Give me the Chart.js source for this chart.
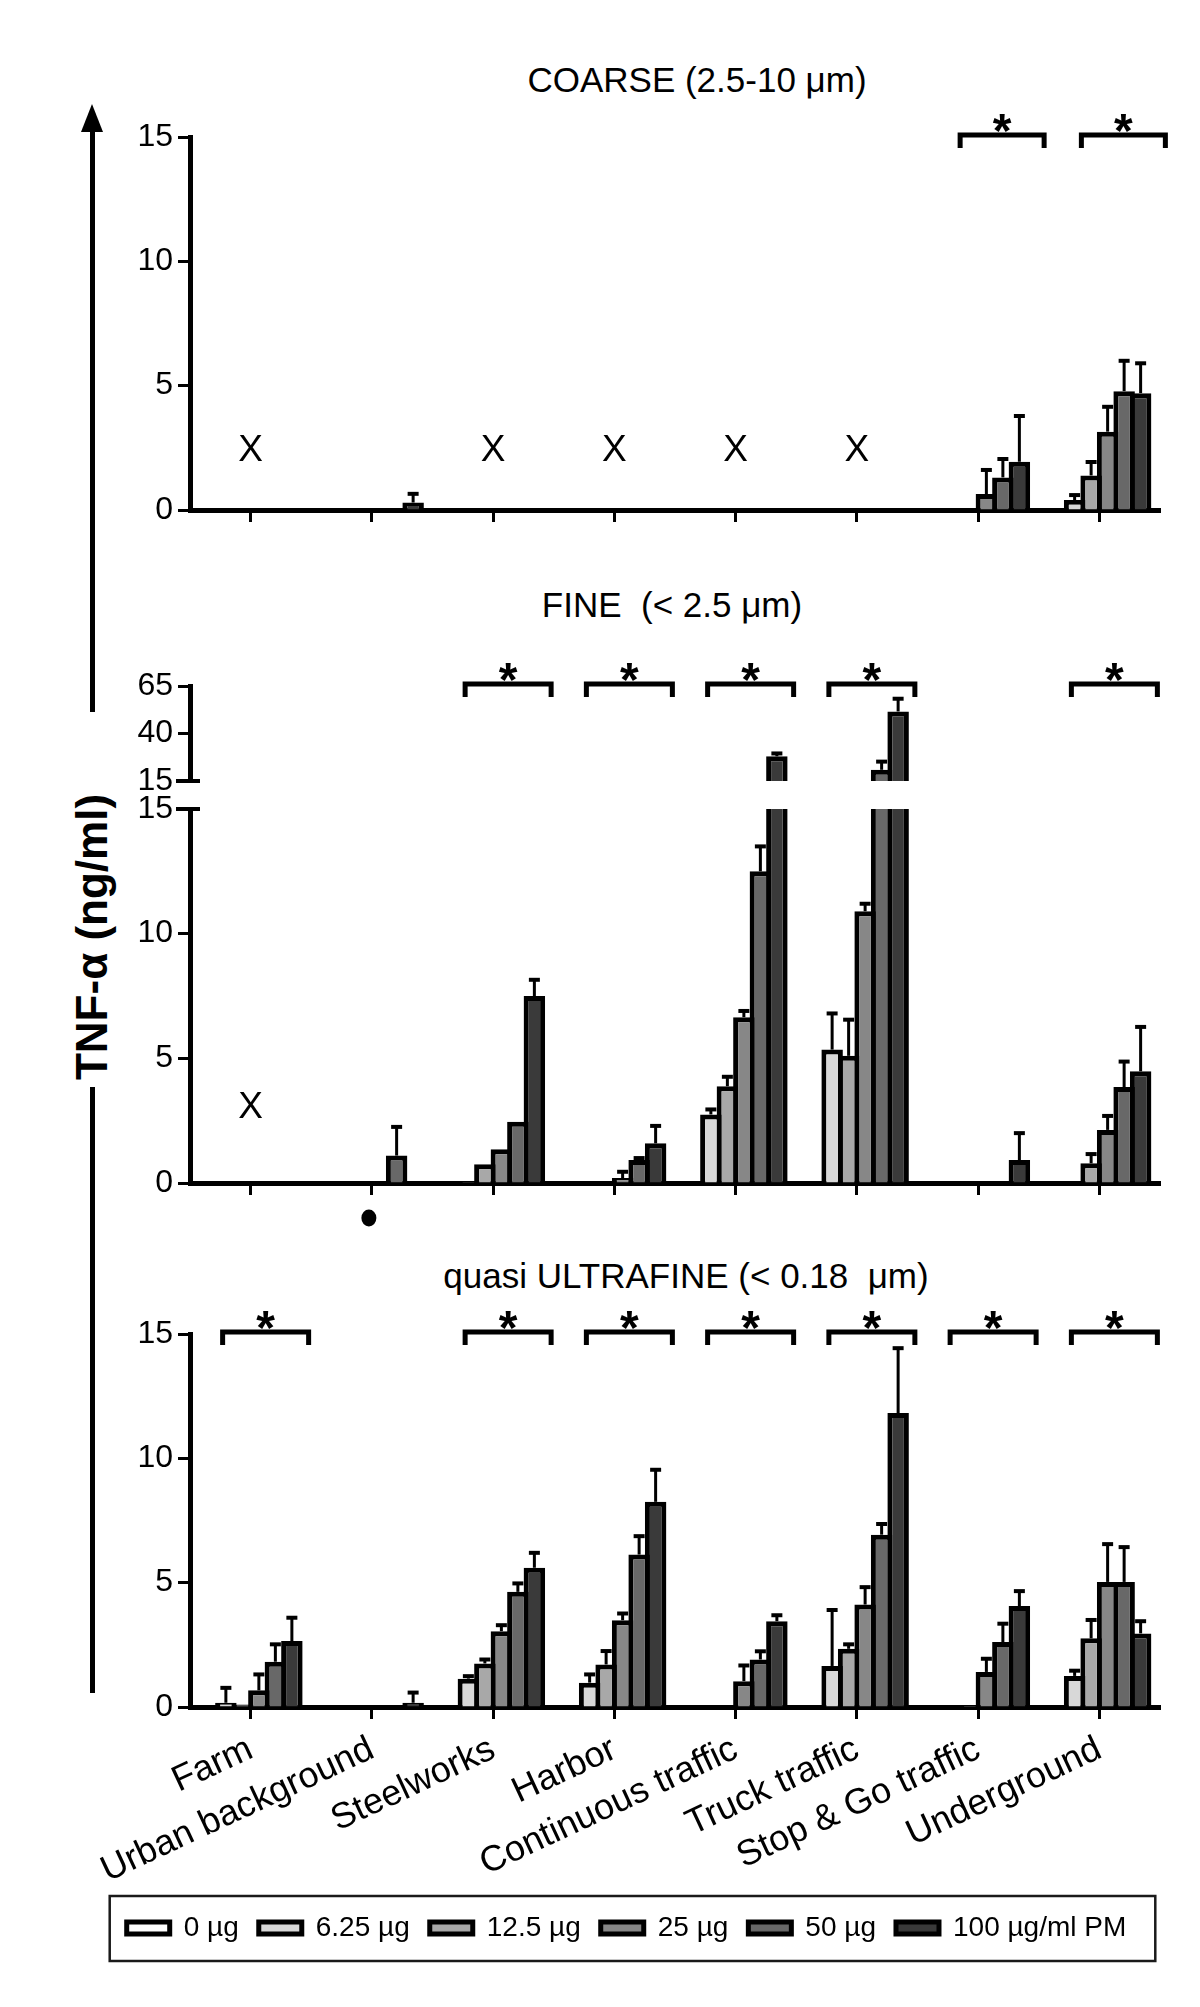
<!DOCTYPE html>
<html>
<head>
<meta charset="utf-8">
<script src="https://cdn.jsdelivr.net/npm/chart.js@4.4.1/dist/chart.umd.min.js"></script>
<style>
  html, body { margin: 0; padding: 0; background: #ffffff; }
  body { width: 1200px; height: 2007px; position: relative; overflow: hidden; font-family: 'Liberation Sans', Arial, sans-serif; color: #000; }
  .wrap { position: absolute; left: 0; width: 1200px; }
  .wrap canvas { display: block; }
  .ptitle { position: absolute; font-size: 35px; white-space: pre; transform: translate(-50%, -50%); line-height: 1; }
  #ytitle { position: absolute; left: 92px; top: 937px; transform: translate(-50%, -50%) rotate(-90deg); font-size: 44px; font-weight: bold; white-space: nowrap; line-height: 1; }
  .vline { position: absolute; left: 90px; width: 5px; background: #000; }
  #arrowhead { position: absolute; left: 81px; top: 104px; width: 0; height: 0; border-left: 11px solid transparent; border-right: 11px solid transparent; border-bottom: 28px solid #000; }
</style>
</head>
<body>
<div class="ptitle" style="left:697px; top:79px;">COARSE (2.5-10 μm)</div>
<div class="ptitle" style="left:672px; top:604px;">FINE  (&lt; 2.5 μm)</div>
<div class="ptitle" style="left:686px; top:1275px;">quasi ULTRAFINE (&lt; 0.18  μm)</div>

<div id="arrowhead"></div>
<div class="vline" style="top:126px; height:586px;"></div>
<div class="vline" style="top:1087px; height:606px;"></div>
<div id="ytitle">TNF-α (ng/ml)</div>

<div class="wrap" style="top:95px; height:445px;"><canvas id="cCoarse" width="1200" height="445"></canvas></div>
<div class="wrap" style="top:640px; height:170px;"><canvas id="cFineTop" width="1200" height="170"></canvas></div>
<div class="wrap" style="top:780px; height:460px;"><canvas id="cFineBottom" width="1200" height="460"></canvas></div>
<div class="wrap" style="top:1290px; height:717px;"><canvas id="cUltra" width="1200" height="717"></canvas></div>

<script>
// ---------------- DATA ----------------
const categories = ['Farm', 'Urban background', 'Steelworks', 'Harbor', 'Continuous traffic', 'Truck traffic', 'Stop & Go traffic', 'Underground'];
const doseLabels = ['0 µg', '6.25 µg', '12.5 µg', '25 µg', '50 µg', '100 µg/ml PM'];

// COARSE (2.5-10 µm) – mean TNF-α (ng/ml); null = not tested (X)
const coarse0   = [null, 0,    null, null, null, null, 0,    0];
const coarse6   = [null, 0,    null, null, null, null, 0,    0.40];
const coarse12  = [null, 0,    null, null, null, null, 0,    1.39];
const coarse25  = [null, 0,    null, null, null, null, 0.64, 3.15];
const coarse50  = [null, 0,    null, null, null, null, 1.31, 4.78];
const coarse100 = [null, 0.30, null, null, null, null, 1.94, 4.70];
const coarseErr6   = [0, 0,    0, 0, 0, 0, 0,    0.20];
const coarseErr12  = [0, 0,    0, 0, 0, 0, 0,    0.54];
const coarseErr25  = [0, 0,    0, 0, 0, 0, 0.97, 1.00];
const coarseErr50  = [0, 0,    0, 0, 0, 0, 0.74, 1.22];
const coarseErr100 = [0, 0.35, 0, 0, 0, 0, 1.84, 1.20];
const coarseSignificant = ['Stop & Go traffic', 'Underground'];
const coarseNotTested = ['Farm', 'Steelworks', 'Harbor', 'Continuous traffic', 'Truck traffic'];

// FINE (< 2.5 µm)
const fine0   = [null, 0,    0,    0,    0,    0,    0,    0];
const fine6   = [null, 0,    0.05, 0,    2.75, 5.35, 0,    0];
const fine12  = [null, 0,    0.75, 0,    3.88, 5.10, 0,    0.79];
const fine25  = [null, 0,    1.35, 0.20, 6.65, 10.9, 0,    2.13];
const fine50  = [null, 1.10, 2.46, 0.92, 12.5, 20.9, 0,    3.85];
const fine100 = [null, 0,    7.50, 1.59, 28.0, 51.6, 0.92, 4.48];
const fineErr6   = [0, 0,    0,    0,    0.20, 1.45, 0,    0];
const fineErr12  = [0, 0,    0,    0,    0.38, 1.45, 0,    0.37];
const fineErr25  = [0, 0,    0,    0.25, 0.25, 0.30, 0,    0.56];
const fineErr50  = [0, 1.15, 0,    0.08, 1.00, 4.30, 0,    1.02];
const fineErr100 = [0, 0,    0.65, 0.70, 1.50, 6.70, 1.08, 1.78];
const fineSignificant = ['Steelworks', 'Harbor', 'Continuous traffic', 'Truck traffic', 'Underground'];
const fineNotTested = ['Farm'];
const fineDotMarked = ['Urban background'];

// quasi ULTRAFINE (< 0.18 µm)
const ultra0   = [0,    0,    0,    0,    0,    0,     0,    0];
const ultra6   = [0.17, 0,    1.14, 0.98, 0,    1.65,  0,    1.25];
const ultra12  = [0.10, 0,    1.75, 1.71, 0,    2.34,  0.07, 2.76];
const ultra25  = [0.67, 0,    3.05, 3.49, 1.04, 4.12,  1.41, 5.03];
const ultra50  = [1.82, 0,    4.63, 6.13, 1.91, 6.93,  2.61, 5.03];
const ultra100 = [2.65, 0.17, 5.60, 8.25, 3.45, 11.82, 4.06, 2.96];
const ultraErr6   = [0.60, 0,    0.10, 0.33, 0,    2.25, 0,    0.21];
const ultraErr12  = [0,    0,    0.16, 0.54, 0,    0.18, 0,    0.74];
const ultraErr25  = [0.64, 0,    0.24, 0.27, 0.63, 0.70, 0.53, 1.52];
const ultraErr50  = [0.70, 0,    0.34, 0.74, 0.33, 0.43, 0.74, 1.40];
const ultraErr100 = [0.94, 0.41, 0.60, 1.29, 0.24, 2.61, 0.60, 0.49];
const ultraSignificant = ['Farm', 'Steelworks', 'Harbor', 'Continuous traffic', 'Truck traffic', 'Stop & Go traffic', 'Underground'];

const yTicksMain = [0, 5, 10, 15];
const yTicksBroken = [15, 40, 65];

// ---------------- STYLE ----------------
const FONT = "'Liberation Sans', Arial, sans-serif";
Chart.defaults.font.family = FONT;
Chart.defaults.color = '#000';
const doseColors = ['#ffffff', '#d8d8d8', '#a8a8a8', '#878787', '#686868', '#3a3a3a'];
const PAD_L = 93, PAD_R = 40, Y_W = 97;

function makeDatasets(series) {
  return series.map((data, i) => ({
    label: doseLabels[i],
    data: data,
    backgroundColor: doseColors[i],
    borderColor: '#000',
    borderWidth: 5,
    borderSkipped: 'start',
    categoryPercentage: 0.8165,
    barPercentage: 1.303,
    clip: 0
  }));
}

function yScale(min, max, ticksList) {
  return {
    min: min, max: max,
    afterBuildTicks: (s) => { s.ticks = ticksList.map(v => ({ value: v })); },
    ticks: { font: { size: 32 }, color: '#000', padding: 5 },
    grid: { drawOnChartArea: false, drawTicks: true, tickLength: 12, tickWidth: 3, tickColor: '#000' },
    border: { display: true, width: 5, color: '#000' },
    afterFit: (s) => { s.width = Y_W; },
    z: 1
  };
}

function xScale(display, showLabels, height) {
  return {
    type: 'category',
    display: display,
    offset: true,
    grid: { offset: false, drawOnChartArea: false, drawTicks: true, tickLength: 12, tickWidth: 3, tickColor: '#000' },
    border: { display: true, width: 5, color: '#000' },
    ticks: { display: showLabels, autoSkip: false, minRotation: 25, maxRotation: 25, font: { size: 36 }, color: '#000', padding: 9 },
    afterFit: (s) => { s.height = height; },
    z: 1
  };
}

function makeAnnot(cfg) {
  return {
    id: 'annot',
    afterDatasetsDraw(chart) {
      const { ctx, chartArea: a } = chart;
      const y = chart.scales.y;
      ctx.save();
      ctx.beginPath();
      ctx.rect(a.left, a.top, a.right - a.left, a.bottom - a.top);
      ctx.clip();
      ctx.strokeStyle = '#000';
      chart.data.datasets.forEach((ds, di) => {
        const errs = cfg.errors[di];
        if (!errs) return;
        const meta = chart.getDatasetMeta(di);
        ds.data.forEach((v, j) => {
          const e = errs[j];
          if (v === null || !e) return;
          const bx = meta.data[j].x;
          const by = y.getPixelForValue(v);
          const ey = y.getPixelForValue(v + e);
          ctx.lineWidth = 3;
          ctx.beginPath(); ctx.moveTo(bx, by); ctx.lineTo(bx, ey); ctx.stroke();
          ctx.lineWidth = 4;
          ctx.beginPath(); ctx.moveTo(bx - 5.5, ey); ctx.lineTo(bx + 5.5, ey); ctx.stroke();
        });
      });
      ctx.restore();
    },
    afterDraw(chart) {
      const { ctx, chartArea: a } = chart;
      const x = chart.scales.x, y = chart.scales.y;
      ctx.save();
      ctx.fillStyle = '#000';
      ctx.strokeStyle = '#000';
      // significance brackets
      (cfg.sig || []).forEach(name => {
        const px = x.getPixelForValue(categories.indexOf(name));
        const x0 = px + cfg.sigOff[0], x1 = px + cfg.sigOff[1];
        const ly = a.top - 2;
        ctx.lineWidth = 5;
        ctx.lineJoin = 'miter';
        ctx.beginPath();
        ctx.moveTo(x0, ly + 13); ctx.lineTo(x0, ly); ctx.lineTo(x1, ly); ctx.lineTo(x1, ly + 13);
        ctx.stroke();
        ctx.font = 'bold 48px ' + FONT;
        ctx.textAlign = 'center';
        ctx.textBaseline = 'alphabetic';
        ctx.fillText('*', (x0 + x1) / 2, ly - 16 + 0.575 * 48);
      });
      // not tested markers
      (cfg.notTested || []).forEach(name => {
        const px = x.getPixelForValue(categories.indexOf(name));
        ctx.font = '37px ' + FONT;
        ctx.textAlign = 'center';
        ctx.textBaseline = 'middle';
        ctx.fillText('X', px, y.getPixelForValue(cfg.xLevel));
      });
      // dots below axis
      (cfg.dots || []).forEach(name => {
        const px = x.getPixelForValue(categories.indexOf(name));
        ctx.beginPath();
        ctx.ellipse(px - 3, a.bottom + 35, 7.5, 8.5, 0, 0, Math.PI * 2);
        ctx.fill();
      });
      // axis break marks
      ctx.lineWidth = 4;
      if (cfg.breakBottom) {
        ctx.beginPath(); ctx.moveTo(a.left - 14, a.bottom); ctx.lineTo(a.left + 10, a.bottom); ctx.stroke();
      }
      if (cfg.breakTop) {
        ctx.beginPath(); ctx.moveTo(a.left - 14, a.top); ctx.lineTo(a.left + 10, a.top); ctx.stroke();
      }
      // legend frame
      if (cfg.legendBox && chart.legend && chart.legend.legendHitBoxes.length) {
        const hb = chart.legend.legendHitBoxes;
        const l = Math.min(...hb.map(h => h.left)) - 17;
        const r = Math.max(...hb.map(h => h.left + h.width)) + 29;
        const t = Math.min(...hb.map(h => h.top)) - 18;
        const b = Math.max(...hb.map(h => h.top + h.height)) + 19;
        ctx.lineWidth = 2.5;
        ctx.strokeStyle = '#1a1a1a';
        ctx.strokeRect(l, t, r - l, b - t);
      }
      ctx.restore();
    }
  };
}

function baseOptions(yCfg, xCfg, padding, legend) {
  return {
    responsive: false,
    animation: false,
    events: [],
    layout: { padding: padding },
    scales: { x: xCfg, y: yCfg },
    plugins: {
      legend: legend || { display: false },
      tooltip: { enabled: false },
      title: { display: false }
    }
  };
}

// COARSE
new Chart(document.getElementById('cCoarse'), {
  type: 'bar',
  data: { labels: categories, datasets: makeDatasets([coarse0, coarse6, coarse12, coarse25, coarse50, coarse100]) },
  options: baseOptions(yScale(0, 15, yTicksMain), xScale(true, false, 20), { left: PAD_L, right: PAD_R, top: 42, bottom: 10 }),
  plugins: [makeAnnot({
    errors: [null, coarseErr6, coarseErr12, coarseErr25, coarseErr50, coarseErr100],
    sig: coarseSignificant, sigOff: [-18, 66],
    notTested: coarseNotTested, xLevel: 2.4
  })]
});

// FINE – upper (broken) segment
new Chart(document.getElementById('cFineTop'), {
  type: 'bar',
  data: { labels: categories, datasets: makeDatasets([fine0, fine6, fine12, fine25, fine50, fine100]) },
  options: baseOptions(yScale(15, 65, yTicksBroken), xScale(false, false, 0), { left: PAD_L, right: PAD_R, top: 46, bottom: 29 }),
  plugins: [makeAnnot({
    errors: [null, fineErr6, fineErr12, fineErr25, fineErr50, fineErr100],
    sig: fineSignificant, sigOff: [-28, 58],
    breakBottom: true
  })]
});

// FINE – lower segment
new Chart(document.getElementById('cFineBottom'), {
  type: 'bar',
  data: { labels: categories, datasets: makeDatasets([fine0, fine6, fine12, fine25, fine50, fine100]) },
  options: baseOptions(yScale(0, 15, yTicksMain), xScale(true, false, 20), { left: PAD_L, right: PAD_R, top: 29, bottom: 37 }),
  plugins: [makeAnnot({
    errors: [null, fineErr6, fineErr12, fineErr25, fineErr50, fineErr100],
    notTested: fineNotTested, xLevel: 3.0,
    dots: fineDotMarked,
    breakTop: true
  })]
});

// quasi ULTRAFINE
new Chart(document.getElementById('cUltra'), {
  type: 'bar',
  data: { labels: categories, datasets: makeDatasets([ultra0, ultra6, ultra12, ultra25, ultra50, ultra100]) },
  options: baseOptions(yScale(0, 15, yTicksMain), xScale(true, true, 187), { left: PAD_L, right: PAD_R, top: 44, bottom: 55 }, {
    display: true,
    position: 'bottom',
    labels: { boxWidth: 43, boxHeight: 12, padding: 20, font: { size: 28 }, color: '#000' }
  }),
  plugins: [makeAnnot({
    errors: [null, ultraErr6, ultraErr12, ultraErr25, ultraErr50, ultraErr100],
    sig: ultraSignificant, sigOff: [-28, 58],
    legendBox: true
  })]
});
</script>
</body>
</html>
